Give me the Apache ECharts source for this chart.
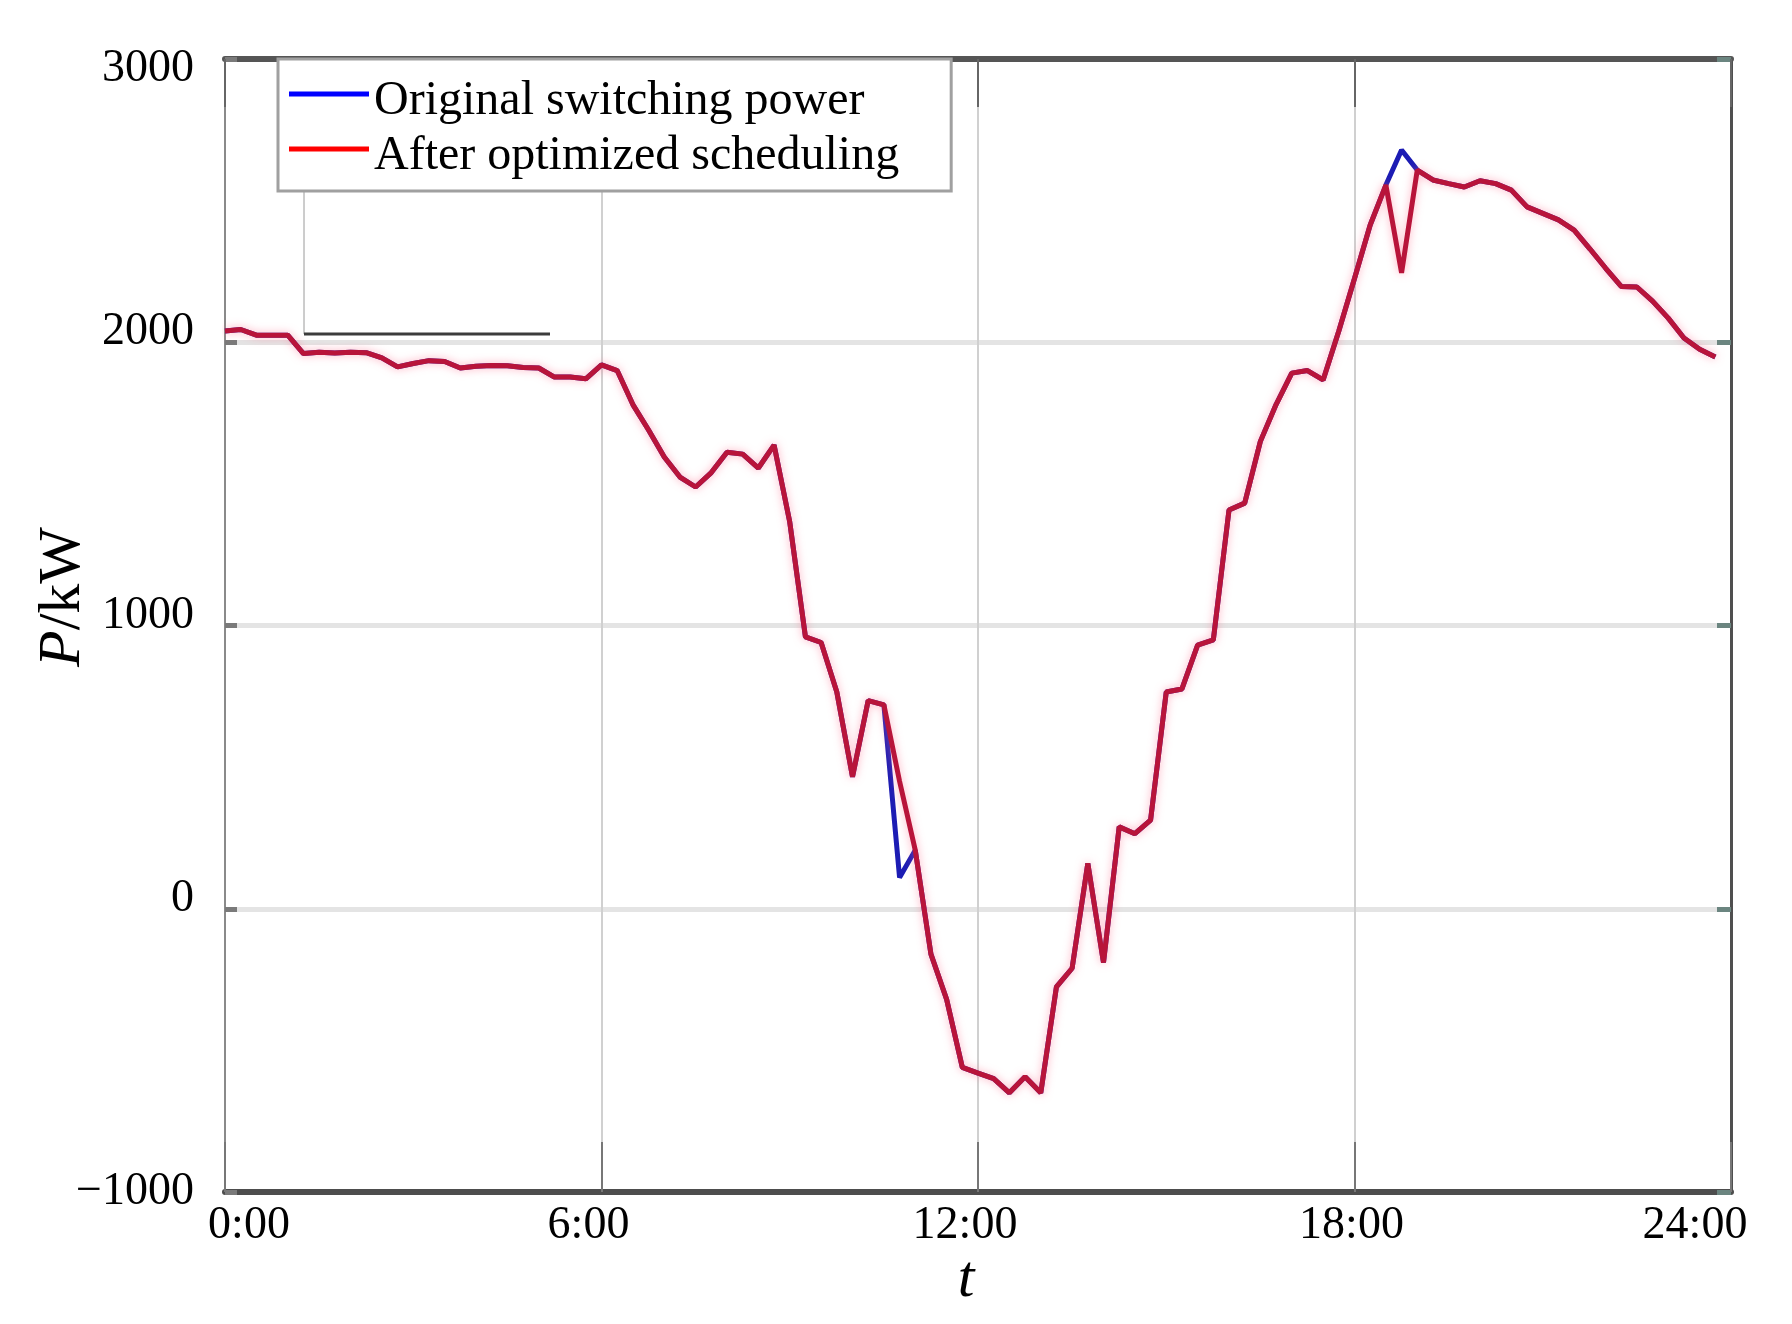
<!DOCTYPE html>
<html><head><meta charset="utf-8">
<script src="https://cdn.jsdelivr.net/npm/echarts@6/dist/echarts.min.js"></script>
<style>html,body{margin:0;padding:0;background:#fff}#c{width:1792px;height:1324px}</style>
</head><body><div id="c"></div>
<script>
const timeLabels = ['0:00','0:15','0:30','0:45','1:00','1:15','1:30','1:45','2:00','2:15','2:30','2:45','3:00','3:15','3:30','3:45','4:00','4:15','4:30','4:45','5:00','5:15','5:30','5:45','6:00','6:15','6:30','6:45','7:00','7:15','7:30','7:45','8:00','8:15','8:30','8:45','9:00','9:15','9:30','9:45','10:00','10:15','10:30','10:45','11:00','11:15','11:30','11:45','12:00','12:15','12:30','12:45','13:00','13:15','13:30','13:45','14:00','14:15','14:30','14:45','15:00','15:15','15:30','15:45','16:00','16:15','16:30','16:45','17:00','17:15','17:30','17:45','18:00','18:15','18:30','18:45','19:00','19:15','19:30','19:45','20:00','20:15','20:30','20:45','21:00','21:15','21:30','21:45','22:00','22:15','22:30','22:45','23:00','23:15','23:30','23:45','24:00'];

const originalPower = [
  2040,2045,2025,2025,2025,1960,1965,1962,1965,1963,1945,1913,
  1925,1935,1932,1909,1915,1918,1917,1911,1909,1877,1877,1871,
  1920,1900,1780,1690,1595,1524,1489,1540,1612,1605,1556,1637,
  1365,960,940,765,466,735,720,110,207,-160,-320,-560,
  -580,-600,-650,-593,-650,-276,-210,160,-190,289,265,313,
  765,776,931,949,1408,1432,1650,1780,1891,1900,1867,2040,
  2225,2414,2555,2679,2608,2573,2560,2548,2570,2560,2537,2478,
  2455,2432,2396,2330,2262,2197,2195,2145,2085,2015,1975,1948
];

const optimizedPower = [
  2040,2045,2025,2025,2025,1960,1965,1962,1965,1963,1945,1913,
  1925,1935,1932,1909,1915,1918,1917,1911,1909,1877,1877,1871,
  1920,1900,1780,1690,1595,1524,1489,1540,1612,1605,1556,1637,
  1365,960,940,765,466,735,720,450,207,-160,-320,-560,
  -580,-600,-650,-593,-650,-276,-210,160,-190,289,265,313,
  765,776,931,949,1408,1432,1650,1780,1891,1900,1867,2040,
  2225,2414,2555,2245,2608,2573,2560,2548,2570,2560,2537,2478,
  2455,2432,2396,2330,2262,2197,2195,2145,2085,2015,1975,1948
];

const seriesNames = ['Original switching power', 'After optimized scheduling'];
const yMin = -1000, yMax = 3000, yStep = 1000;

const FONT = "'Liberation Serif', 'Times New Roman', serif";
const chart = echarts.init(document.getElementById('c'), null, {renderer: 'canvas'});

const tickTxt = {fontFamily: FONT, fontSize: 46, color: '#000', lineHeight: 46};

chart.setOption({
  animation: false,
  backgroundColor: '#fff',
  grid: {left: 225, right: 61, top: 59, bottom: 132, outerBoundsMode: 'none', containLabel: false},
  legend: {
    orient: 'vertical', left: 278, top: 59,
    padding: [4, 52, 11, 11],
    backgroundColor: '#fff', borderColor: '#a0a0a0', borderWidth: 3, borderRadius: 0,
    itemWidth: 80, itemHeight: 5, itemGap: -7, icon: 'rect',
    formatter: function (name) { return '{a|' + name + '}'; },
    textStyle: {
      fontFamily: FONT, fontSize: 48, color: '#000', lineHeight: 48,
      rich: {a: {fontFamily: FONT, fontSize: 48, color: '#000', lineHeight: 48, padding: [14, 0, 0, 0]}}
    },
    data: [
      {name: seriesNames[0], itemStyle: {color: '#0000ff'}},
      {name: seriesNames[1], itemStyle: {color: '#ff0000'}}
    ],
    selectedMode: false
  },
  xAxis: [{
    type: 'category', data: timeLabels, boundaryGap: false, position: 'bottom',
    axisLine: {show: true, onZero: false, lineStyle: {color: '#4d4d4d', width: 6}},
    axisTick: {show: true, inside: true, length: 50, interval: 23, lineStyle: {color: '#777', width: 2}},
    axisLabel: {
      interval: 23, margin: 11,
      formatter: function (v, i) {
        if (i === 0) return '{f|' + v + '}';
        if (i === 96) return '{l|' + v + '}';
        if (i === 72) return '{s|' + v + '}';
        return '{m|' + v + '}';
      },
      rich: {
        f: Object.assign({padding: [0, 0, 0, 48]}, tickTxt),
        l: Object.assign({padding: [0, 72, 0, 0]}, tickTxt),
        m: Object.assign({padding: [0, 26, 0, 0]}, tickTxt),
        s: Object.assign({padding: [0, 6, 0, 0]}, tickTxt)
      }
    },
    splitLine: {show: true, interval: 23, lineStyle: {color: '#d0d0d0', width: 2}}
  }, {
    type: 'category', data: timeLabels, boundaryGap: false, position: 'top',
    axisLine: {show: true, onZero: false, lineStyle: {color: '#555', width: 6}},
    axisTick: {show: true, inside: true, length: 48, interval: 23, lineStyle: {color: '#666', width: 2}},
    axisLabel: {show: false},
    splitLine: {show: false}
  }],
  yAxis: [{
    type: 'value', min: yMin, max: yMax, interval: yStep, position: 'left',
    axisLine: {show: true, onZero: false, lineStyle: {color: '#8a8a8a', width: 2}},
    axisTick: {show: true, inside: true, length: 12, lineStyle: {color: '#7a7a7a', width: 5}},
    axisLabel: {
      margin: 31,
      formatter: function (v) {
        const s = v < 0 ? '\u2212' + Math.abs(v) : String(v);
        if (v === yMax) return '{d|' + s + '}';
        if (v === yMin) return '{n|' + s + '}';
        return '{u|' + s + '}';
      },
      rich: {
        u: Object.assign({padding: [0, 0, 20, 0]}, tickTxt),
        d: Object.assign({padding: [20, 0, 0, 0]}, tickTxt),
        n: Object.assign({}, tickTxt)
      }
    },
    splitLine: {show: true, lineStyle: {color: '#e4e4e4', width: 5}}
  }, {
    type: 'value', min: yMin, max: yMax, interval: yStep, position: 'right',
    axisLine: {show: true, onZero: false, lineStyle: {color: '#4f4f4f', width: 3}},
    axisTick: {show: true, inside: true, length: 14, lineStyle: {color: '#6b8580', width: 5}},
    axisLabel: {show: false},
    splitLine: {show: false}
  }],
  series: [{
    name: seriesNames[0], type: 'line', data: originalPower,
    xAxisIndex: 0, yAxisIndex: 0,
    showSymbol: false, symbol: 'none', z: 3,
    lineStyle: {color: '#1c1cb4', width: 5},
    itemStyle: {color: '#1c1cb4'}
  }, {
    name: seriesNames[1], type: 'line', data: optimizedPower,
    xAxisIndex: 0, yAxisIndex: 0,
    showSymbol: false, symbol: 'none', z: 4,
    lineStyle: {color: '#b8143a', width: 5, shadowColor: 'rgba(255,110,140,0.55)', shadowBlur: 9},
    itemStyle: {color: '#b8143a'}
  }],
  graphic: [
    {type: 'line', shape: {x1: 304, y1: 191, x2: 304, y2: 334}, style: {stroke: '#9a9a9a', lineWidth: 1}, z: 1},
    {type: 'line', shape: {x1: 304, y1: 334, x2: 550, y2: 334}, style: {stroke: '#3c3c3c', lineWidth: 3}, z: 1},
    {type: 'text', x: 63, y: 597, rotation: Math.PI / 2, z: 10,
      style: {text: '{i|P}{r|/kW}', align: 'center', verticalAlign: 'middle', fill: '#000',
        font: '60px ' + FONT,
        rich: {i: {fontFamily: FONT, fontSize: 60, fontStyle: 'italic', fill: '#000'},
               r: {fontFamily: FONT, fontSize: 60, fill: '#000'}}}},
    {type: 'text', x: 966, y: 1280, z: 10,
      style: {text: 't', align: 'center', verticalAlign: 'middle', fill: '#000',
        font: 'italic 60px ' + FONT}}
  ]
});
</script>
</body></html>
